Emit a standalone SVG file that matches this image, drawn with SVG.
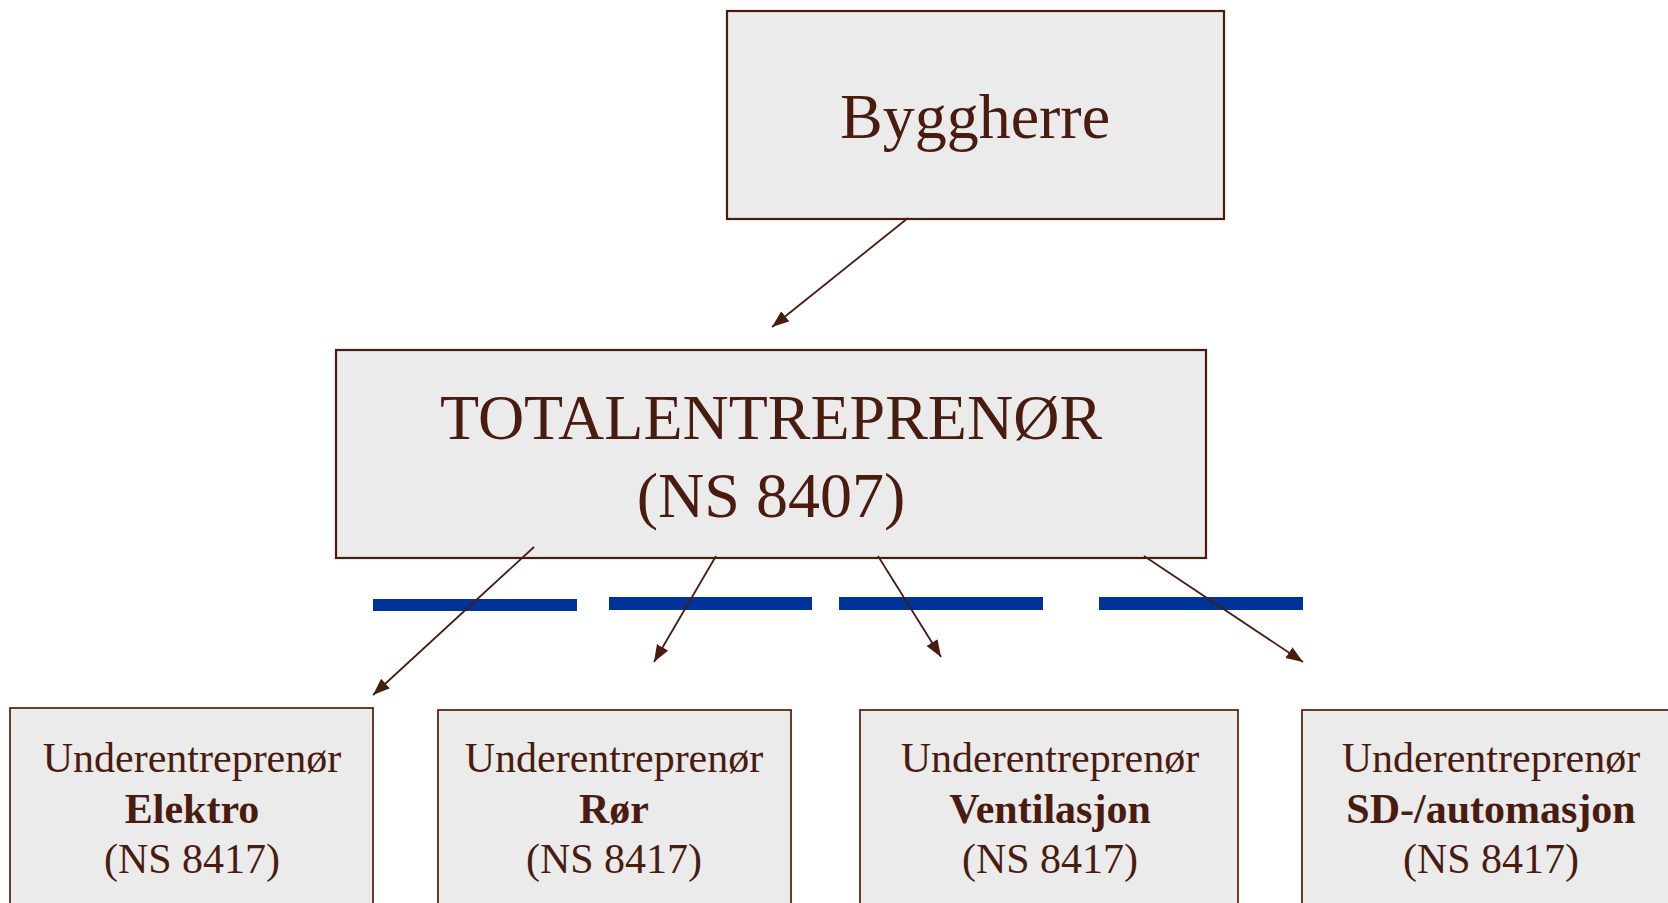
<svg xmlns="http://www.w3.org/2000/svg" width="1668" height="903" viewBox="0 0 1668 903">
<defs>
<style>
.box{fill:#ebebeb;stroke:#4a1c10;stroke-width:2.2}
.sub{fill:#ebebeb;stroke:#5a2818;stroke-width:1.8}
.t{font-family:"Liberation Serif","Times New Roman",serif;fill:#4a1c10;text-anchor:middle}
.big{font-size:64px}
.sm{font-size:42px}
.b{font-weight:bold}
.con{stroke:#4a1c10;stroke-width:1.8;fill:none;marker-end:url(#ah)}
.bar{fill:#003399}
</style>
<marker id="ah" markerUnits="userSpaceOnUse" markerWidth="18" markerHeight="14" refX="17" refY="6.5" orient="auto">
<path d="M0,0 L17,6.5 L0,13 Z" fill="#4a1c10"/>
</marker>
</defs>
<rect width="1668" height="903" fill="#ffffff"/>
<g id="byggherre">
<rect class="box" x="727" y="11" width="497" height="208"/>
<text class="t big" x="975" y="138">Byggherre</text>
</g>
<g id="totalentreprenor">
<rect class="box" x="336" y="350" width="870" height="208"/>
<text class="t big" x="771" y="439">TOTALENTREPRENØR</text>
<text class="t big" x="771" y="517">(NS 8407)</text>
</g>
<g id="bars">
<rect class="bar" x="373" y="599" width="204" height="12"/>
<rect class="bar" x="609" y="597" width="203" height="13"/>
<rect class="bar" x="839" y="597" width="204" height="13"/>
<rect class="bar" x="1099" y="597" width="204" height="13"/>
</g>
<g id="elektro">
<rect class="sub" x="10" y="708" width="363" height="220"/>
<text class="t sm" x="192" y="772">Underentreprenør</text>
<text class="t sm b" x="192" y="823">Elektro</text>
<text class="t sm" x="192" y="873">(NS 8417)</text>
</g>
<g id="ror">
<rect class="sub" x="438" y="710" width="353" height="220"/>
<text class="t sm" x="614" y="772">Underentreprenør</text>
<text class="t sm b" x="614" y="823">Rør</text>
<text class="t sm" x="614" y="873">(NS 8417)</text>
</g>
<g id="ventilasjon">
<rect class="sub" x="860" y="710" width="378" height="220"/>
<text class="t sm" x="1050" y="772">Underentreprenør</text>
<text class="t sm b" x="1050" y="823">Ventilasjon</text>
<text class="t sm" x="1050" y="873">(NS 8417)</text>
</g>
<g id="sd-automasjon">
<rect class="sub" x="1302" y="710" width="380" height="220"/>
<text class="t sm" x="1491" y="772">Underentreprenør</text>
<text class="t sm b" x="1491" y="823">SD-/automasjon</text>
<text class="t sm" x="1491" y="873">(NS 8417)</text>
</g>
<g id="connectors">
<line class="con" x1="908" y1="218" x2="772" y2="327"/>
<line class="con" x1="534" y1="547" x2="373" y2="695"/>
<line class="con" x1="716" y1="556" x2="654" y2="662"/>
<line class="con" x1="878" y1="556" x2="941" y2="657"/>
<line class="con" x1="1144" y1="556" x2="1303" y2="662"/>
</g>
</svg>
